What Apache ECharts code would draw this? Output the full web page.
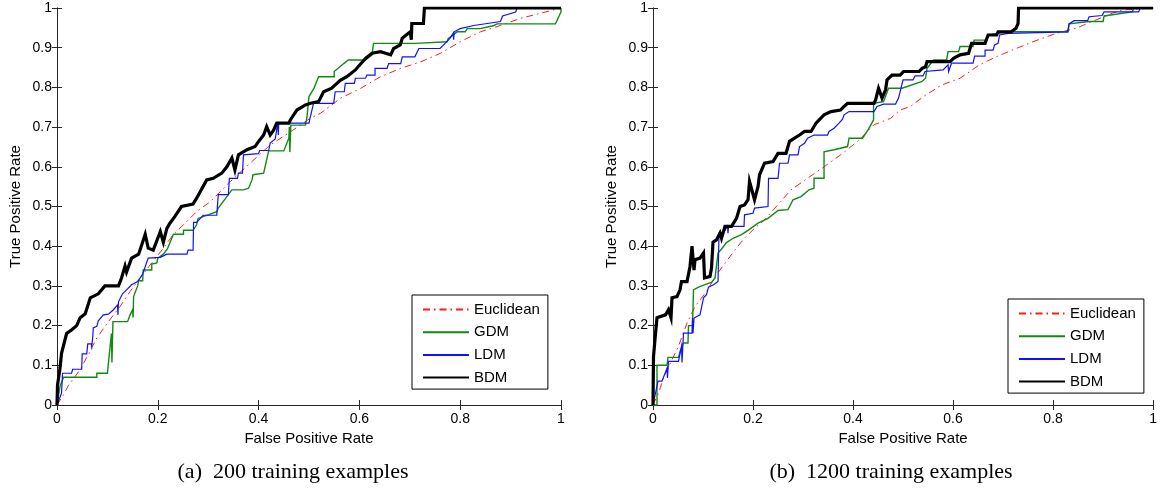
<!DOCTYPE html>
<html>
<head>
<meta charset="utf-8">
<script src="https://cdn.jsdelivr.net/npm/echarts@6/dist/echarts.min.js"></script>
<style>
html,body{margin:0;padding:0;background:#fff;}
#chart{width:1160px;height:490px;}
</style>
</head>
<body>
<div id="chart"></div>
<script>
// ---------- data ----------
const seriesNames = ['Euclidean', 'GDM', 'LDM', 'BDM'];
const xTicks = [0, 0.2, 0.4, 0.6, 0.8, 1];
const yTicks = [0, 0.1, 0.2, 0.3, 0.4, 0.5, 0.6, 0.7, 0.8, 0.9, 1];
const captions = ['(a)  200 training examples', '(b)  1200 training examples'];

// (a) 200 training examples
const leftEuclidean = [[0,0],[0.013,0.026],[0.023,0.05],[0.046,0.089],[0.062,0.127],[0.079,0.169],[0.102,0.21],[0.125,0.248],[0.145,0.286],[0.165,0.32],[0.185,0.353],[0.211,0.395],[0.231,0.43],[0.251,0.454],[0.277,0.487],[0.304,0.512],[0.344,0.563],[0.383,0.609],[0.423,0.655],[0.463,0.688],[0.5,0.72],[0.523,0.735],[0.563,0.773],[0.603,0.798],[0.642,0.827],[0.682,0.848],[0.721,0.864],[0.761,0.886],[0.8,0.915],[0.84,0.94],[0.88,0.956],[0.92,0.974],[0.96,0.987],[1,1]];
const leftGDM = [[0,0],[0.006,0.047],[0.013,0.07],[0.079,0.07],[0.079,0.08],[0.1,0.08],[0.108,0.18],[0.109,0.107],[0.111,0.21],[0.14,0.21],[0.145,0.227],[0.15,0.24],[0.151,0.22],[0.152,0.273],[0.16,0.3],[0.162,0.313],[0.17,0.313],[0.171,0.34],[0.188,0.34],[0.188,0.355],[0.198,0.358],[0.2,0.37],[0.211,0.38],[0.219,0.393],[0.231,0.43],[0.251,0.43],[0.251,0.44],[0.27,0.44],[0.277,0.454],[0.28,0.47],[0.3,0.479],[0.317,0.487],[0.32,0.496],[0.347,0.542],[0.37,0.542],[0.38,0.546],[0.387,0.567],[0.389,0.58],[0.41,0.584],[0.42,0.64],[0.45,0.64],[0.46,0.672],[0.461,0.701],[0.462,0.637],[0.464,0.705],[0.493,0.705],[0.496,0.726],[0.5,0.777],[0.51,0.798],[0.519,0.827],[0.55,0.827],[0.55,0.84],[0.569,0.86],[0.578,0.869],[0.612,0.869],[0.625,0.882],[0.628,0.911],[0.711,0.911],[0.712,0.915],[0.774,0.915],[0.776,0.923],[0.794,0.94],[0.81,0.94],[0.814,0.948],[0.84,0.948],[0.867,0.956],[0.873,0.96],[0.989,0.96],[1,0.99],[1,1]];
const leftLDM = [[0,0],[0.009,0.03],[0.011,0.08],[0.029,0.08],[0.031,0.09],[0.049,0.09],[0.05,0.129],[0.059,0.129],[0.061,0.154],[0.068,0.154],[0.069,0.147],[0.071,0.173],[0.072,0.194],[0.079,0.198],[0.082,0.212],[0.092,0.227],[0.102,0.229],[0.112,0.24],[0.12,0.252],[0.121,0.227],[0.122,0.26],[0.13,0.28],[0.138,0.29],[0.148,0.303],[0.16,0.311],[0.17,0.33],[0.181,0.37],[0.205,0.372],[0.218,0.38],[0.258,0.38],[0.26,0.39],[0.27,0.39],[0.271,0.46],[0.277,0.46],[0.29,0.478],[0.317,0.478],[0.32,0.53],[0.34,0.53],[0.342,0.571],[0.358,0.571],[0.36,0.584],[0.368,0.584],[0.37,0.63],[0.4,0.633],[0.402,0.641],[0.42,0.641],[0.423,0.66],[0.433,0.67],[0.438,0.71],[0.439,0.68],[0.44,0.71],[0.5,0.71],[0.502,0.722],[0.509,0.76],[0.549,0.76],[0.552,0.789],[0.57,0.789],[0.572,0.81],[0.59,0.81],[0.592,0.823],[0.612,0.823],[0.615,0.831],[0.631,0.831],[0.631,0.848],[0.655,0.848],[0.658,0.86],[0.682,0.86],[0.685,0.877],[0.71,0.877],[0.718,0.898],[0.76,0.898],[0.77,0.911],[0.78,0.924],[0.786,0.936],[0.787,0.92],[0.788,0.94],[0.8,0.948],[0.827,0.956],[0.88,0.966],[0.884,0.98],[0.91,0.99],[0.913,1],[1,1]];
const leftBDM = [[0,0],[0.001,0.05],[0.006,0.093],[0.009,0.13],[0.019,0.18],[0.03,0.19],[0.039,0.2],[0.046,0.22],[0.056,0.23],[0.066,0.27],[0.082,0.28],[0.095,0.3],[0.122,0.3],[0.128,0.32],[0.135,0.35],[0.138,0.335],[0.148,0.37],[0.162,0.38],[0.175,0.43],[0.181,0.395],[0.191,0.39],[0.205,0.437],[0.211,0.41],[0.218,0.445],[0.224,0.458],[0.234,0.475],[0.247,0.5],[0.27,0.506],[0.277,0.521],[0.297,0.567],[0.31,0.571],[0.327,0.584],[0.337,0.6],[0.347,0.622],[0.353,0.592],[0.36,0.63],[0.377,0.643],[0.393,0.651],[0.4,0.664],[0.41,0.68],[0.416,0.701],[0.423,0.68],[0.43,0.693],[0.436,0.71],[0.46,0.71],[0.463,0.718],[0.476,0.743],[0.493,0.756],[0.503,0.76],[0.519,0.764],[0.529,0.789],[0.545,0.798],[0.562,0.818],[0.575,0.827],[0.592,0.844],[0.612,0.873],[0.625,0.886],[0.642,0.89],[0.652,0.886],[0.662,0.882],[0.668,0.898],[0.681,0.907],[0.685,0.924],[0.701,0.94],[0.703,0.92],[0.704,0.961],[0.727,0.961],[0.729,1],[1,1]];

// (b) 1200 training examples
const rightEuclidean = [[0,0],[0.011,0.03],[0.021,0.068],[0.038,0.114],[0.051,0.148],[0.068,0.206],[0.084,0.248],[0.107,0.286],[0.127,0.328],[0.144,0.357],[0.164,0.391],[0.183,0.42],[0.203,0.445],[0.223,0.466],[0.25,0.505],[0.276,0.542],[0.309,0.571],[0.342,0.6],[0.375,0.63],[0.409,0.664],[0.442,0.706],[0.475,0.722],[0.494,0.743],[0.515,0.752],[0.541,0.777],[0.577,0.806],[0.614,0.823],[0.653,0.857],[0.686,0.877],[0.726,0.898],[0.766,0.918],[0.806,0.936],[0.846,0.949],[0.886,0.97],[0.919,0.987],[0.939,0.995],[1,1]];
const rightGDM = [[0,0],[0.008,0],[0.008,0.1],[0.028,0.1],[0.03,0.12],[0.051,0.12],[0.054,0.135],[0.061,0.156],[0.07,0.156],[0.071,0.2],[0.079,0.2],[0.081,0.29],[0.091,0.297],[0.104,0.303],[0.117,0.309],[0.124,0.32],[0.13,0.383],[0.137,0.393],[0.147,0.409],[0.16,0.42],[0.177,0.429],[0.19,0.44],[0.21,0.458],[0.23,0.47],[0.25,0.49],[0.27,0.492],[0.28,0.517],[0.296,0.525],[0.312,0.542],[0.322,0.546],[0.322,0.571],[0.342,0.571],[0.342,0.638],[0.362,0.643],[0.389,0.651],[0.392,0.672],[0.419,0.672],[0.43,0.693],[0.441,0.718],[0.441,0.76],[0.461,0.764],[0.471,0.798],[0.498,0.798],[0.538,0.815],[0.545,0.823],[0.548,0.848],[0.561,0.869],[0.587,0.869],[0.59,0.89],[0.611,0.89],[0.614,0.903],[0.64,0.903],[0.642,0.919],[0.667,0.919],[0.67,0.932],[0.69,0.936],[0.7,0.94],[0.83,0.94],[0.832,0.96],[0.872,0.966],[0.9,0.966],[0.902,0.98],[0.958,0.99],[0.962,1],[1,1]];
const rightLDM = [[0,0],[0.01,0.06],[0.018,0.06],[0.028,0.093],[0.029,0.068],[0.031,0.11],[0.051,0.11],[0.057,0.148],[0.058,0.107],[0.061,0.181],[0.078,0.181],[0.079,0.219],[0.08,0.181],[0.082,0.219],[0.094,0.227],[0.101,0.27],[0.107,0.278],[0.111,0.297],[0.121,0.303],[0.13,0.311],[0.132,0.433],[0.14,0.433],[0.149,0.45],[0.15,0.433],[0.151,0.45],[0.182,0.45],[0.183,0.479],[0.2,0.483],[0.203,0.496],[0.23,0.5],[0.231,0.571],[0.25,0.571],[0.253,0.609],[0.27,0.609],[0.273,0.63],[0.29,0.63],[0.293,0.651],[0.303,0.659],[0.309,0.672],[0.322,0.68],[0.349,0.68],[0.352,0.689],[0.362,0.697],[0.372,0.71],[0.379,0.72],[0.382,0.731],[0.392,0.739],[0.442,0.739],[0.448,0.752],[0.461,0.758],[0.485,0.758],[0.491,0.773],[0.5,0.819],[0.52,0.819],[0.524,0.829],[0.54,0.829],[0.544,0.84],[0.58,0.844],[0.59,0.857],[0.591,0.84],[0.597,0.861],[0.64,0.861],[0.643,0.879],[0.664,0.879],[0.664,0.894],[0.68,0.894],[0.683,0.907],[0.69,0.911],[0.693,0.932],[0.71,0.936],[0.713,0.94],[0.829,0.94],[0.832,0.96],[0.842,0.968],[0.869,0.968],[0.872,0.978],[0.898,0.981],[0.902,0.99],[0.971,0.99],[0.974,1],[1,1]];
const rightBDM = [[0,0],[0.001,0.122],[0.005,0.18],[0.008,0.22],[0.011,0.223],[0.025,0.227],[0.031,0.24],[0.036,0.22],[0.038,0.27],[0.048,0.273],[0.054,0.29],[0.057,0.311],[0.068,0.311],[0.074,0.349],[0.078,0.4],[0.082,0.34],[0.084,0.366],[0.094,0.37],[0.101,0.383],[0.103,0.32],[0.114,0.324],[0.117,0.345],[0.12,0.41],[0.127,0.416],[0.134,0.433],[0.137,0.42],[0.144,0.45],[0.157,0.45],[0.167,0.47],[0.174,0.5],[0.183,0.504],[0.19,0.517],[0.193,0.563],[0.203,0.517],[0.21,0.55],[0.213,0.58],[0.223,0.609],[0.24,0.613],[0.25,0.634],[0.266,0.634],[0.273,0.664],[0.283,0.672],[0.293,0.68],[0.303,0.689],[0.316,0.689],[0.326,0.71],[0.342,0.731],[0.356,0.739],[0.375,0.743],[0.382,0.752],[0.389,0.76],[0.442,0.76],[0.445,0.768],[0.451,0.798],[0.458,0.773],[0.465,0.794],[0.468,0.819],[0.478,0.831],[0.494,0.831],[0.501,0.84],[0.532,0.84],[0.538,0.848],[0.545,0.852],[0.548,0.865],[0.594,0.865],[0.601,0.873],[0.614,0.882],[0.631,0.886],[0.637,0.911],[0.664,0.911],[0.67,0.932],[0.687,0.932],[0.69,0.94],[0.716,0.94],[0.726,0.949],[0.73,0.961],[0.731,1],[1,1]];

// ---------- chart ----------
const FONT = '"Liberation Sans", Arial, Helvetica, sans-serif';
const AX = '#262626';
const styles = {
  Euclidean: {color: '#ff1a1a', width: 1, type: [7, 4, 1.5, 4]},
  GDM: {color: '#118a11', width: 1.4, type: 'solid'},
  LDM: {color: '#1010ff', width: 1.2, type: 'solid'},
  BDM: {color: '#000000', width: 3.2, type: 'solid'}
};
const grids = [
  {left: 57, top: 8, width: 504, height: 397},
  {left: 653, top: 8, width: 503, height: 397}
];

function xAxes(gi) {
  const base = {
    type: 'value', gridIndex: gi, min: xTicks[0], max: xTicks[xTicks.length - 1],
    interval: xTicks[1] - xTicks[0],
    axisLine: {show: true, lineStyle: {color: AX, width: 1}},
    axisTick: {show: true, inside: true, length: 5, lineStyle: {color: AX}},
    splitLine: {show: false}
  };
  return [
    Object.assign({}, base, {
      position: 'bottom',
      axisLabel: {show: true, margin: 7, fontSize: 14, color: '#000', fontFamily: FONT},
      name: 'False Positive Rate', nameLocation: 'middle', nameGap: 25,
      nameTextStyle: {fontSize: 15, color: '#000', fontFamily: FONT}
    }),
    Object.assign({}, base, {position: 'top', axisLabel: {show: false}})
  ];
}
function yAxes(gi) {
  const base = {
    type: 'value', gridIndex: gi, min: yTicks[0], max: yTicks[yTicks.length - 1],
    interval: yTicks[1] - yTicks[0],
    axisLine: {show: true, lineStyle: {color: AX, width: 1}},
    axisTick: {show: true, inside: true, length: 5, lineStyle: {color: AX}},
    splitLine: {show: false}
  };
  return [
    Object.assign({}, base, {
      position: 'left',
      axisLabel: {show: true, margin: 5, fontSize: 14, color: '#000', fontFamily: FONT},
      name: 'True Positive Rate', nameLocation: 'middle', nameGap: 34,
      nameTextStyle: {fontSize: 15, color: '#000', fontFamily: FONT}
    }),
    Object.assign({}, base, {position: 'right', axisLabel: {show: false}})
  ];
}

const panels = [
  {Euclidean: leftEuclidean, GDM: leftGDM, LDM: leftLDM, BDM: leftBDM},
  {Euclidean: rightEuclidean, GDM: rightGDM, LDM: rightLDM, BDM: rightBDM}
];
const series = [];
panels.forEach((p, gi) => {
  seriesNames.forEach(n => {
    series.push({
      name: n, type: 'line', xAxisIndex: gi * 2, yAxisIndex: gi * 2,
      data: p[n], showSymbol: false, symbol: 'none', animation: false,
      lineStyle: {color: styles[n].color, width: styles[n].width, type: styles[n].type, join: 'miter'},
      itemStyle: {color: styles[n].color},
      silent: true
    });
  });
});

function legend(left, top) {
  return {
    orient: 'vertical', left: left, top: top, data: seriesNames,
    itemWidth: 46, itemHeight: 14, itemGap: 7.7,
    padding: [7, 8, 4, 10], borderColor: '#000', borderWidth: 1, backgroundColor: '#fff',
    textStyle: {fontSize: 15, color: '#000', fontFamily: FONT, lineHeight: 14},
    itemStyle: {opacity: 0, borderWidth: 0},
    selectedMode: false
  };
}

const CAPFONT = '22px "Liberation Serif", "Times New Roman", serif';
const option = {
  backgroundColor: '#fff',
  animation: false,
  grid: grids,
  xAxis: xAxes(0).concat(xAxes(1)),
  yAxis: yAxes(0).concat(yAxes(1)),
  legend: [legend(412, 295), legend(1008, 299)],
  series: series,
  graphic: [
    {type: 'text', x: 293, y: 472, style: {text: captions[0], font: CAPFONT, fill: '#000', align: 'center', verticalAlign: 'middle'}},
    {type: 'text', x: 891, y: 472, style: {text: captions[1], font: CAPFONT, fill: '#000', align: 'center', verticalAlign: 'middle'}}
  ]
};
const chart = echarts.init(document.getElementById('chart'), null, {renderer: 'canvas'});
chart.setOption(option);
</script>
</body>
</html>
